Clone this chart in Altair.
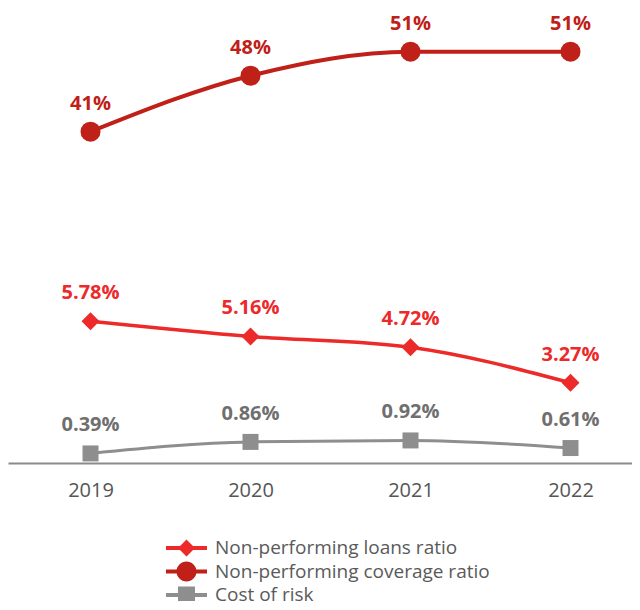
import altair as alt
import pandas as pd

years = ["2019", "2020", "2021", "2022"]
npl_ratio = [5.78, 5.16, 4.72, 3.27]
coverage_ratio = [41, 48, 51, 51]
cost_of_risk = [0.39, 0.86, 0.92, 0.61]

series_names = ["Non-performing loans ratio", "Non-performing coverage ratio", "Cost of risk"]
series_colors = ["#EC2A2A", "#BF2018", "#8E8E8E"]
label_colors = ["#EC2A2A", "#BF2018", "#6F6F6F"]

FONT = "Open Sans"

rows = []
for y, v in zip(years, npl_ratio):
    rows.append({"year": y, "series": series_names[0], "value": v, "label": f"{v:.2f}%"})
for y, v in zip(years, coverage_ratio):
    rows.append({"year": y, "series": series_names[1], "value": v, "label": f"{v:.0f}%"})
for y, v in zip(years, cost_of_risk):
    rows.append({"year": y, "series": series_names[2], "value": v, "label": f"{v:.2f}%"})
df = pd.DataFrame(rows)

x_enc = alt.X(
    "year:O",
    scale=alt.Scale(type="point", padding=0.45, align=0.573),
    axis=alt.Axis(
        title=None, ticks=False, grid=False, labelAngle=0,
        labelFontSize=20, labelColor="#555555", labelFont=FONT,
        labelPadding=17, domainColor="#8A8A8A", domainWidth=2,
    ),
)


def series_layers(name, color, lcolor, shape, size, width, ydom):
    base = alt.Chart(df).transform_filter(alt.datum.series == name)
    y_enc = alt.Y("value:Q", scale=alt.Scale(domain=ydom, nice=False, zero=False), axis=None)
    line = base.mark_line(color=color, strokeWidth=width, interpolate="monotone").encode(x=x_enc, y=y_enc)
    pts = base.mark_point(shape=shape, size=size, filled=True, opacity=1, color=color).encode(x=x_enc, y=y_enc)
    txt = base.mark_text(dy=-28, fontSize=20, fontWeight="bold", font=FONT, color=lcolor, baseline="middle").encode(
        x=x_enc, y=y_enc, text="label:N"
    )
    return [line, pts, txt]


prim = [0, 18.55]
sec = [-0.41, 56.46]

layer_a = alt.layer(
    *series_layers(series_names[2], series_colors[2], label_colors[2], "square", 256, 3, prim),
    *series_layers(series_names[0], series_colors[0], label_colors[0], "diamond", 324, 3.5, prim),
)
layer_b = alt.layer(
    *series_layers(series_names[1], series_colors[1], label_colors[1], "circle", 400, 4, sec),
)

# legend symbols: line stub + marker (custom path in unit coordinates)
stub = "M-2.05,-0.2 H2.05 V0.2 H-2.05 Z "
legend_shapes = [
    stub + "M0,-0.85 L0.85,0 L0,0.85 L-0.85,0 Z",
    stub + "M-1,0 A1,1 0 1,1 1,0 A1,1 0 1,1 -1,0 Z",
    stub + "M-0.85,-0.85 H0.85 V0.85 H-0.85 Z",
]

legend_layer = alt.Chart(df).transform_filter("false").mark_point(filled=True, opacity=1).encode(
    color=alt.Color(
        "series:N",
        scale=alt.Scale(domain=series_names, range=series_colors),
        legend=alt.Legend(
            title=None, orient="none", legendX=168.5, legendY=530, direction="vertical",
            symbolSize=400, symbolStrokeWidth=0, labelOffset=18.5, rowPadding=3.5,
            labelFontSize=19, labelColor="#5A5A5A", labelFont=FONT, labelLimit=400, padding=0,
        ),
    ),
    shape=alt.Shape("series:N", scale=alt.Scale(domain=series_names, range=legend_shapes)),
)

chart = alt.layer(layer_b, layer_a, legend_layer).resolve_scale(y="independent").properties(
    width=624, height=455, padding={"left": 0, "top": 0, "right": 0, "bottom": -4}
).configure_view(stroke=None)

chart.save("out.html", embed_options={"renderer": "svg", "actions": False})
